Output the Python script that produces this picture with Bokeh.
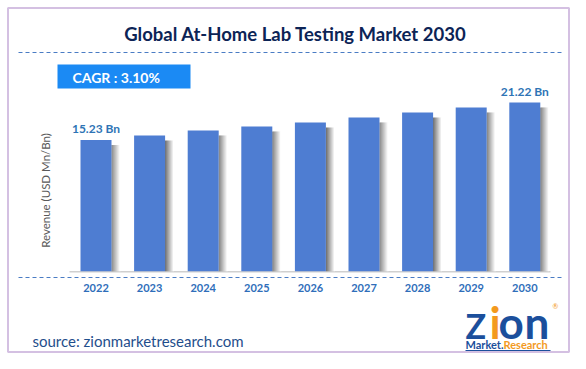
import math
from bokeh.plotting import figure
from bokeh.models import Range1d, Label, BoxAnnotation
from bokeh.embed import file_html
from bokeh.resources import INLINE
from bokeh.core.properties import value

# ---------------- data ----------------
years = [2022, 2023, 2024, 2025, 2026, 2027, 2028, 2029, 2030]
revenue = [15.23, 15.94, 16.75, 17.39, 18.03, 18.83, 19.63, 20.43, 21.22]
year_labels = [str(y) for y in years]
title_text = "Global At-Home Lab Testing Market 2030"
cagr_text = "CAGR : 3.10%"
y_axis_text = "Revenue (USD Mn/Bn)"
source_text = "source: zionmarketresearch.com"

# ---------------- geometry ----------------
W, H = 570, 353
PXX = 53.6      # px per year
PXY = 6.24      # px per value unit
BASE = -5.8     # value at bar baseline
X0 = years[0] - 95.5 / PXX
Y0 = BASE - (H - 270.7) / PXY


def fx(px):
    return X0 + px / PXX


def fy(py):
    return Y0 + (H - py) / PXY


FONT = "Lato"

p = figure(width=W, height=H, x_range=Range1d(X0, X0 + W / PXX),
           y_range=Range1d(Y0, Y0 + H / PXY), output_backend="svg",
           toolbar_location=None, x_axis_location=None, y_axis_location=None,
           min_border=0)
p.grid.visible = False
p.outline_line_color = None
p.background_fill_color = "white"
p.border_fill_color = "white"

# frame border
p.add_layout(BoxAnnotation(left=fx(7.5), right=fx(568.5), top=fy(7.5), bottom=fy(351.5),
                           fill_alpha=0, line_color="#7030a0", line_width=2))

# dashed separator lines
p.line([fx(18), fx(562)], [fy(52), fy(52)], line_color="#4a7cc4", line_width=1, line_dash="4 3")
p.line([fx(18), fx(562)], [fy(277), fy(277)], line_color="#4a7cc4", line_width=1, line_dash="4 3")

# baseline
p.line([fx(69), fx(550)], [BASE - 0.6 / PXY, BASE - 0.6 / PXY], line_color="#d0d0d0", line_width=1.5)

# shadows
bar_w = 31 / PXX
for k in range(9):
    off = (31 / 2 + k + 0.5) / PXX
    g = int(0x68 + k * (0xff - 0x68) / 8)
    col = "#%02x%02x%02x" % (g, g, g)
    p.vbar(x=[y + off for y in years], width=1 / PXX,
           top=[v - 5 / PXY for v in revenue], bottom=BASE,
           fill_color=col, line_color=None)

# bars
p.vbar(x=years, width=bar_w, top=revenue, bottom=BASE,
       fill_color="#4e7dd2", line_color=None)

# year labels
p.text(x=years, y=[fy(287)] * len(years), text=year_labels,
       text_align="center", text_baseline="middle", text_font=value(FONT),
       text_font_size="11px", text_font_style="bold", text_color="#2f6eba")

# value labels (first and last)
p.text(x=[years[0], years[-1]],
       y=[revenue[0] + 11.5 / PXY, revenue[-1] + 11.5 / PXY],
       text=[f"{revenue[0]:.2f} Bn", f"{revenue[-1]:.2f} Bn"],
       text_align="center", text_baseline="middle", text_font=value(FONT),
       text_font_size="12px", text_font_style="bold", text_color="#2e74b5")

# title
p.add_layout(Label(x=fx(295), y=fy(33), text=title_text, text_align="center",
                   text_baseline="middle", text_font=FONT, text_font_size="18.5px",
                   text_font_style="bold", text_color="#0c2456"))

# CAGR box
p.add_layout(BoxAnnotation(left=fx(57), right=fx(190), top=fy(64), bottom=fy(88),
                           fill_color="#1b8af4", fill_alpha=1.0, line_alpha=0))
p.add_layout(Label(x=fx(72), y=fy(77), text=cagr_text, text_align="left",
                   text_baseline="middle", text_font=FONT, text_font_size="14px",
                   text_font_style="bold", text_color="white"))

# y axis title
p.add_layout(Label(x=fx(45), y=fy(190), text=y_axis_text, angle=math.pi / 2,
                   text_align="center", text_baseline="middle", text_font=FONT,
                   text_font_size="11.5px", text_color="#595959"))

# source
p.add_layout(Label(x=fx(32), y=fy(340), text=source_text, text_align="left",
                   text_baseline="middle", text_font=FONT, text_font_size="15px",
                   text_color="#1f4e8c"))

# logo: "Zion" + "Market.Research"
logo_parts = [("Z", 465, 325, "34px", "#1b4f9c"),
              ("i", 489, 321, "44px", "#f39a1e"),
              ("o", 498, 321, "44px", "#1b4f9c"),
              ("n", 524, 321, "44px", "#1b4f9c")]
for t, xx, yy, fs, c in logo_parts:
    p.add_layout(Label(x=fx(xx), y=fy(yy), text=t, text_align="left",
                       text_baseline="middle", text_font=FONT, text_font_size=fs,
                       text_font_style="bold", text_color=c))
p.add_layout(Label(x=fx(552), y=fy(305), text="®", text_align="left",
                   text_baseline="middle", text_font=FONT, text_font_size="7px",
                   text_color="#f39a1e"))
p.add_layout(Label(x=fx(465), y=fy(344), text="Market.", text_align="left",
                   text_baseline="middle", text_font=FONT, text_font_size="11px",
                   text_font_style="bold", text_color="#1b4f9c"))
p.add_layout(Label(x=fx(503), y=fy(344), text="Research", text_align="left",
                   text_baseline="middle", text_font=FONT, text_font_size="11px",
                   text_font_style="bold", text_color="#f39a1e"))
p.line([fx(465), fx(550)], [fy(350), fy(350)], line_color="#1b4f9c", line_width=1)

open("out.html", "w").write(file_html(p, INLINE))
